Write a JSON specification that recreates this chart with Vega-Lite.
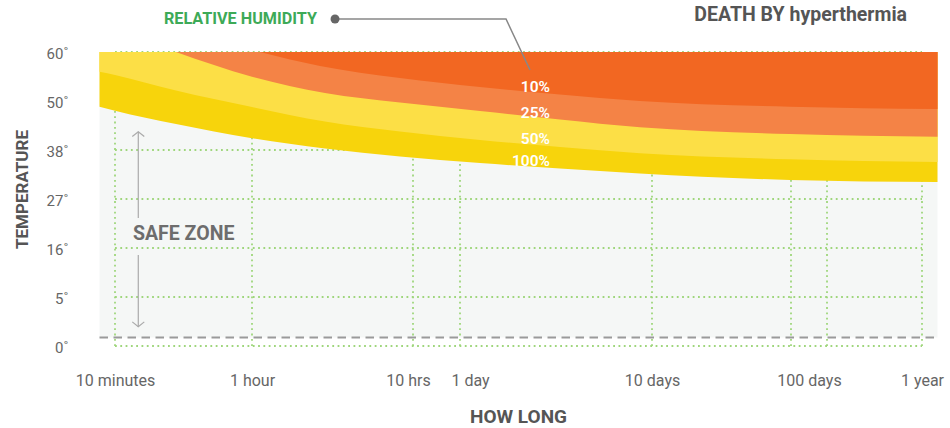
{
  "$schema": "https://vega.github.io/schema/vega-lite/v6.json",
  "autosize": "none",
  "width": 807,
  "height": 294,
  "padding": {"left": 115, "top": 52, "right": 28, "bottom": 82},
  "background": "white",
  "config": {"view": {"stroke": null}, "font": "Roboto"},
  "datasets": {
    "bg": [{"hours": 0.1361, "hours2": 10210, "temp": 0.88, "temp2": 60}],
    "grid": [
      {"hours": 0.16667, "hours2": 0.16667, "temp": 0, "temp2": 60},
      {"hours": 1, "hours2": 1, "temp": 0, "temp2": 60},
      {"hours": 10, "hours2": 10, "temp": 0, "temp2": 60},
      {"hours": 24, "hours2": 24, "temp": 0, "temp2": 60},
      {"hours": 240, "hours2": 240, "temp": 0, "temp2": 60},
      {"hours": 2400, "hours2": 2400, "temp": 0, "temp2": 60},
      {"hours": 3426, "hours2": 3426, "temp": 0, "temp2": 60},
      {"hours": 8760, "hours2": 8760, "temp": 0, "temp2": 60},
      {"hours": 0.16667, "hours2": 8760, "temp": 0, "temp2": 0},
      {"hours": 0.16667, "hours2": 8760, "temp": 5, "temp2": 5},
      {"hours": 0.16667, "hours2": 8760, "temp": 16, "temp2": 16},
      {"hours": 0.16667, "hours2": 8760, "temp": 27, "temp2": 27},
      {"hours": 0.16667, "hours2": 8760, "temp": 38, "temp2": 38},
      {"hours": 0.16667, "hours2": 8760, "temp": 50, "temp2": 50},
      {"hours": 0.16667, "hours2": 8760, "temp": 60, "temp2": 60}
    ],
    "b100": [
      {"hours": 0.1361, "temp": 48.6}, {"hours": 0.16667, "temp": 47.62}, {"hours": 0.3701, "temp": 44.37},
      {"hours": 1, "temp": 40.87}, {"hours": 2.8409, "temp": 38.37}, {"hours": 8.303, "temp": 36.54},
      {"hours": 30.51, "temp": 35.08}, {"hours": 79.62, "temp": 33.85}, {"hours": 207.8, "temp": 32.72},
      {"hours": 2360, "temp": 31.27}, {"hours": 10210, "temp": 30.82}
    ],
    "b50": [
      {"hours": 0.1361, "temp": 55.98}, {"hours": 0.16667, "temp": 55.31}, {"hours": 0.3701, "temp": 52.14},
      {"hours": 1, "temp": 48.53}, {"hours": 2.8409, "temp": 44.98}, {"hours": 8.303, "temp": 42.53},
      {"hours": 30.51, "temp": 40.45}, {"hours": 79.62, "temp": 38.73}, {"hours": 207.8, "temp": 37.26},
      {"hours": 2360, "temp": 35.91}, {"hours": 10210, "temp": 35.31}
    ],
    "b25": [
      {"hours": 0.3701, "temp": 60}, {"hours": 1, "temp": 54.96}, {"hours": 2.8409, "temp": 51.63},
      {"hours": 8.303, "temp": 49.63}, {"hours": 30.51, "temp": 47.55}, {"hours": 79.62, "temp": 45.47},
      {"hours": 207.8, "temp": 43.56}, {"hours": 2360, "temp": 41.92}, {"hours": 10210, "temp": 41.26}
    ],
    "b10": [
      {"hours": 1.1213, "temp": 60}, {"hours": 2.6447, "temp": 57.14}, {"hours": 8.303, "temp": 54.69},
      {"hours": 30.51, "temp": 52.86}, {"hours": 79.62, "temp": 51.33}, {"hours": 207.8, "temp": 50.0},
      {"hours": 2360, "temp": 48.6}, {"hours": 10210, "temp": 48.04}
    ],
    "bandLabels": [
      {"label": "10%", "hours": 70.6, "temp": 52.92},
      {"label": "25%", "hours": 70.6, "temp": 46.99},
      {"label": "50%", "hours": 70.6, "temp": 40.69},
      {"label": "100%", "hours": 70.6, "temp": 35.6}
    ],
    "arrows": [
      {"hours": 0.226, "hours2": 0.226, "temp": 42.48, "temp2": 22.73},
      {"hours": 0.226, "hours2": 0.226, "temp": 14.43, "temp2": 1.97}
    ],
    "connector": [
      {"hours": 3.278, "temp": 66.73}, {"hours": 41.68, "temp": 66.73}, {"hours": 55.56, "temp": 56.33}
    ]
  },
  "layer": [
    {
      "data": {"name": "bg"},
      "mark": {"type": "rect", "fill": "#f5f7f6"},
      "encoding": {
        "x": {"field": "hours", "type": "quantitative",
          "scale": {"type": "log", "nice": false, "domain": [0.16667, 1, 10, 24, 240, 2400, 8760], "range": [0, 137, 298, 345, 537, 676, 807]},
          "axis": {
            "values": [0.16667, 1, 10, 24, 240, 2400, 8760],
            "labelExpr": "datum.value < 0.5 ? '10 minutes' : datum.value < 2 ? '1 hour' : datum.value < 15 ? '10 hrs' : datum.value < 100 ? '1 day' : datum.value < 1000 ? '10 days' : datum.value < 3000 ? '100 days' : '1 year'",
            "labelOffset": {"condition": [
              {"test": "datum.value > 5 && datum.value < 15", "value": -5},
              {"test": "datum.value > 15 && datum.value < 100", "value": 10},
              {"test": "datum.value > 1000 && datum.value < 3000", "value": 18}
            ], "value": 0},
            "grid": false, "ticks": false, "domain": false,
            "labelFontSize": 16, "labelColor": "#666666", "labelFont": "Roboto",
            "labelBaseline": "alphabetic", "labelPadding": 39, "labelOverlap": false, "labelFlush": false, "labelBound": false,
            "title": "HOW LONG", "titleFontSize": 19, "titleFontWeight": "bold", "titleColor": "#555555", "titleFont": "Roboto",
            "titleX": 403, "titleY": 76, "titleBaseline": "alphabetic", "titleAlign": "center"
          }
        },
        "x2": {"field": "hours2"},
        "y": {"field": "temp", "type": "quantitative",
          "scale": {"domain": [0, 5, 16, 27, 38, 50, 60], "range": [294, 245, 196, 147, 98, 49, 0], "nice": false, "zero": false},
          "axis": {
            "values": [0, 5, 16, 27, 38, 50, 60],
            "labelExpr": "datum.value + '˚'",
            "grid": false, "ticks": false, "domain": false,
            "labelFontSize": 15, "labelColor": "#666666", "labelFont": "Roboto", "labelPadding": 47, "labelOffset": 1,
            "title": "TEMPERATURE", "titleFontSize": 17, "titleFontWeight": "bold", "titleColor": "#555555", "titleFont": "Roboto",
            "titleX": -88, "titleY": 137, "titleAngle": 270, "titleBaseline": "alphabetic", "titleAlign": "center"
          }
        },
        "y2": {"field": "temp2"}
      }
    },
    {
      "data": {"name": "grid"},
      "mark": {"type": "rule", "stroke": "#9fd67c", "strokeWidth": 1.8, "strokeDash": [1.8, 3.5]},
      "encoding": {
        "x": {"field": "hours", "type": "quantitative"},
        "x2": {"field": "hours2"},
        "y": {"field": "temp", "type": "quantitative"},
        "y2": {"field": "temp2"}
      }
    },
    {
      "data": {"name": "bg"},
      "mark": {"type": "rule", "stroke": "#9a9a9a", "strokeWidth": 2, "strokeDash": [8.5, 5.5]},
      "encoding": {
        "x": {"field": "hours", "type": "quantitative"},
        "x2": {"field": "hours2"},
        "y": {"field": "temp", "type": "quantitative"}
      }
    },
    {
      "data": {"name": "b100"},
      "mark": {"type": "area", "fill": "#f7d40c", "interpolate": "monotone"},
      "encoding": {
        "x": {"field": "hours", "type": "quantitative"},
        "y": {"field": "temp", "type": "quantitative", "stack": null},
        "y2": {"datum": 60}
      }
    },
    {
      "data": {"name": "b50"},
      "mark": {"type": "area", "fill": "#fcdf46", "interpolate": "monotone"},
      "encoding": {
        "x": {"field": "hours", "type": "quantitative"},
        "y": {"field": "temp", "type": "quantitative", "stack": null},
        "y2": {"datum": 60}
      }
    },
    {
      "data": {"name": "b25"},
      "mark": {"type": "area", "fill": "#f48346", "interpolate": "monotone"},
      "encoding": {
        "x": {"field": "hours", "type": "quantitative"},
        "y": {"field": "temp", "type": "quantitative", "stack": null},
        "y2": {"datum": 60}
      }
    },
    {
      "data": {"name": "b10"},
      "mark": {"type": "area", "fill": "#f26722", "interpolate": "monotone"},
      "encoding": {
        "x": {"field": "hours", "type": "quantitative"},
        "y": {"field": "temp", "type": "quantitative", "stack": null},
        "y2": {"datum": 60}
      }
    },
    {
      "data": {"name": "bandLabels"},
      "mark": {"type": "text", "align": "right", "baseline": "middle", "color": "white", "fontSize": 15.5, "fontWeight": 600, "font": "Roboto"},
      "encoding": {
        "x": {"field": "hours", "type": "quantitative"},
        "y": {"field": "temp", "type": "quantitative"},
        "text": {"field": "label"}
      }
    },
    {
      "data": {"name": "arrows"},
      "mark": {"type": "rule", "stroke": "#aaaaaa", "strokeWidth": 1.2},
      "encoding": {
        "x": {"field": "hours", "type": "quantitative"},
        "x2": {"field": "hours2"},
        "y": {"field": "temp", "type": "quantitative"},
        "y2": {"field": "temp2"}
      }
    },
    {
      "data": {"values": [{"hours": 0.226, "temp": 42.48}]},
      "mark": {"type": "point", "shape": "M-1,0.8L0,0L1,0.8", "filled": false, "stroke": "#aaaaaa", "strokeWidth": 1.2, "size": 144, "opacity": 1},
      "encoding": {
        "x": {"field": "hours", "type": "quantitative"},
        "y": {"field": "temp", "type": "quantitative"}
      }
    },
    {
      "data": {"values": [{"hours": 0.226, "temp": 1.97}]},
      "mark": {"type": "point", "shape": "M-1,-0.8L0,0L1,-0.8", "filled": false, "stroke": "#aaaaaa", "strokeWidth": 1.2, "size": 144, "opacity": 1},
      "encoding": {
        "x": {"field": "hours", "type": "quantitative"},
        "y": {"field": "temp", "type": "quantitative"}
      }
    },
    {
      "data": {"values": [{"label": "SAFE ZONE", "hours": 0.2109, "temp": 19.14}]},
      "mark": {"type": "text", "align": "left", "baseline": "middle", "color": "#6d6d6d", "fontSize": 19.5, "fontWeight": "bold", "font": "Roboto"},
      "encoding": {
        "x": {"field": "hours", "type": "quantitative"},
        "y": {"field": "temp", "type": "quantitative"},
        "text": {"field": "label"}
      }
    },
    {
      "data": {"name": "connector"},
      "mark": {"type": "line", "stroke": "#888888", "strokeWidth": 1.5},
      "encoding": {
        "x": {"field": "hours", "type": "quantitative"},
        "y": {"field": "temp", "type": "quantitative"}
      }
    },
    {
      "data": {"values": [{"hours": 3.278, "temp": 66.73}]},
      "mark": {"type": "point", "shape": "circle", "filled": true, "fill": "#666666", "size": 80, "opacity": 1},
      "encoding": {
        "x": {"field": "hours", "type": "quantitative"},
        "y": {"field": "temp", "type": "quantitative"}
      }
    },
    {
      "data": {"values": [{"label": "RELATIVE HUMIDITY", "hours": 0.3163, "temp": 66.73}]},
      "mark": {"type": "text", "align": "left", "baseline": "middle", "color": "#3daa57", "fontSize": 16.2, "fontWeight": "bold", "font": "Roboto"},
      "encoding": {
        "x": {"field": "hours", "type": "quantitative"},
        "y": {"field": "temp", "type": "quantitative"},
        "text": {"field": "label"}
      }
    },
    {
      "data": {"values": [{"label": "DEATH BY hyperthermia", "hours": 7553, "temp": 67.55}]},
      "mark": {"type": "text", "align": "right", "baseline": "middle", "color": "#555555", "fontSize": 19.5, "fontWeight": "bold", "font": "Roboto"},
      "encoding": {
        "x": {"field": "hours", "type": "quantitative"},
        "y": {"field": "temp", "type": "quantitative"},
        "text": {"field": "label"}
      }
    }
  ]
}
